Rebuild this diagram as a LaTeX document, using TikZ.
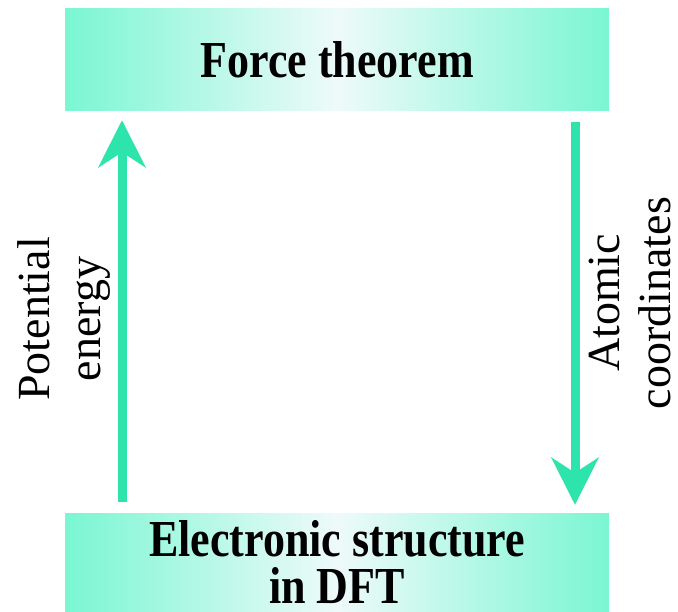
\documentclass[tikz,border=0pt]{standalone}
\usepackage{fontspec}
\setmainfont{Liberation Serif}
\usepackage{graphicx}
\usepackage{xcolor}
\usetikzlibrary{positioning, arrows.meta, calc}

\definecolor{flowgreen}{RGB}{44,228,172}
\definecolor{boxaqua}{RGB}{122,246,210}
\definecolor{boxcore}{RGB}{238,250,250}

% tall bold lines for the boxes
\newcommand{\tallline}[1]{\scalebox{1}[1.18]{#1}}

\begin{document}
\begin{tikzpicture}[x=1pt, y=-1pt,
    % Shaded boxes for the two stages, bold text
    stagebox/.style={rectangle, inner sep=0pt, minimum width=544pt, align=center,
      left color=boxaqua, right color=boxaqua, middle color=boxcore,
      font=\bfseries\fontsize{44}{47}\selectfont},
    % Thick arrows between the stages
    flow/.style={draw=flowgreen, line width=9pt,
      -{Stealth[length=47pt, width=47pt, inset=15pt, fill=flowgreen]}},
    % Rotated side labels
    sidelabel/.style={rotate=90, align=center, inner sep=0pt,
      font=\fontsize{46}{51.5}\selectfont}
  ]
  % --- Page size ---
  \useasboundingbox (0,0) rectangle (678,612);

  % --- Boxes ---
  \node[stagebox, minimum height=102pt] (force) at (337,60) {\tallline{Force theorem}};
  \node[stagebox, minimum height=99pt] (elec) at (337,562.5)
    {\tallline{Electronic structure}\\\tallline{in DFT}};

  % --- Arrows ---
  \coordinate (up) at (122,0);
  \coordinate (down) at (575,0);
  \draw[flow, shorten <=11pt, shorten >=9pt] (up |- elec.north) -- (up |- force.south);
  \draw[flow, shorten <=11pt, shorten >=8pt] (down |- force.south) -- (down |- elec.north);

  % --- Labels ---
  \node[sidelabel] (potlabel) at (64,319) {Potential\\energy};
  \node[sidelabel] (atomlabel) at (630,303) {Atomic\\coordinates};
\end{tikzpicture}
\end{document}
